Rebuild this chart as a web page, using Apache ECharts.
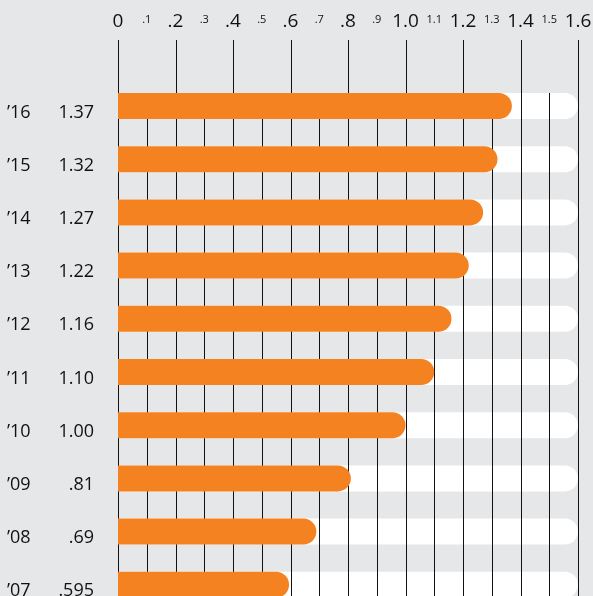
<!DOCTYPE html>
<html>
<head>
<meta charset="utf-8">
<script src="https://cdn.jsdelivr.net/npm/echarts@6/dist/echarts.min.js"></script>
<style>
  html, body { margin: 0; padding: 0; background: #e6e7e8; }
  #chart { width: 593px; height: 596px; }
</style>
</head>
<body>
<div id="chart"></div>
<script>
// rows, top to bottom
const years = ['\u201916', '\u201915', '\u201914', '\u201913', '\u201912', '\u201911', '\u201910', '\u201909', '\u201908', '\u201907']
const values = [1.37, 1.32, 1.27, 1.22, 1.16, 1.10, 1.00, 0.81, 0.69, 0.595]
const valueLabels = ['1.37', '1.32', '1.27', '1.22', '1.16', '1.10', '1.00', '.81', '.69', '.595']
const trackMax = 1.6

// top scale
const tickValues = [0, 0.1, 0.2, 0.3, 0.4, 0.5, 0.6, 0.7, 0.8, 0.9, 1.0, 1.1, 1.2, 1.3, 1.4, 1.5, 1.6]
const tickLabels = ['0', '.1', '.2', '.3', '.4', '.5', '.6', '.7', '.8', '.9', '1.0', '1.1', '1.2', '1.3', '1.4', '1.5', '1.6']

const FONT = 'Open Sans'
const BAR_W = 26

const chart = echarts.init(document.getElementById('chart'), null, { renderer: 'canvas' })

chart.setOption({
  backgroundColor: '#e6e7e8',
  animation: false,
  grid: { left: 118, width: 460, top: 79.4, height: 532, outerBoundsMode: 'none', containLabel: false },
  xAxis: {
    type: 'value',
    position: 'top',
    min: 0,
    max: 1.6,
    interval: 0.1,
    axisLine: { show: false },
    axisTick: { show: false },
    splitLine: { show: false },
    axisLabel: {
      margin: 48,
      formatter: (v) => {
        const i = Math.round(v * 10)
        return i % 2 === 0 ? '{maj|' + tickLabels[i] + '}' : '{min|' + tickLabels[i] + '}'
      },
      rich: {
        maj: { fontFamily: FONT, fontSize: 19, color: '#111' },
        min: { fontFamily: FONT, fontSize: 11, color: '#111', padding: [0, 0, 6, 0] },
      },
    },
  },
  yAxis: {
    type: 'category',
    inverse: true,
    data: years,
    axisLine: { show: false },
    axisTick: { show: false },
    axisLabel: {
      margin: 24,
      formatter: (v, i) => '{y|' + v + '}{v|' + valueLabels[i] + '}',
      rich: {
        y: { fontFamily: FONT, fontSize: 18, color: '#111', width: 47, align: 'left', padding: [13, 0, 0, 0] },
        v: { fontFamily: FONT, fontSize: 18, color: '#111', width: 40, align: 'right', padding: [13, 0, 0, 0] },
      },
    },
  },
  series: [
    {
      name: 'track',
      type: 'bar',
      z: 1,
      barWidth: BAR_W,
      barGap: '-100%',
      silent: true,
      itemStyle: { color: '#ffffff', borderRadius: [0, 13, 13, 0] },
      data: years.map(() => trackMax),
    },
    {
      name: 'lines',
      type: 'custom',
      z: 2,
      clip: false,
      silent: true,
      encode: { x: 0, y: 1 },
      renderItem: (params, api) => {
        const x = Math.round(api.coord([api.value(0), 0])[0]) + 0.5
        const major = api.value(2) === 1
        const top = major ? 40 : api.coord([0, 0])[1] - BAR_W / 2
        return {
          type: 'line',
          shape: { x1: x, y1: top, x2: x, y2: 596 },
          style: { stroke: '#111', lineWidth: 1 },
        }
      },
      data: tickValues.map((v, i) => [v, 0, i % 2 === 0 ? 1 : 0]),
    },
    {
      name: 'value',
      type: 'bar',
      z: 3,
      barWidth: BAR_W,
      barGap: '-100%',
      itemStyle: { color: '#f58220', borderRadius: [0, 13, 13, 0] },
      data: values,
    },
  ],
})
</script>
</body>
</html>
